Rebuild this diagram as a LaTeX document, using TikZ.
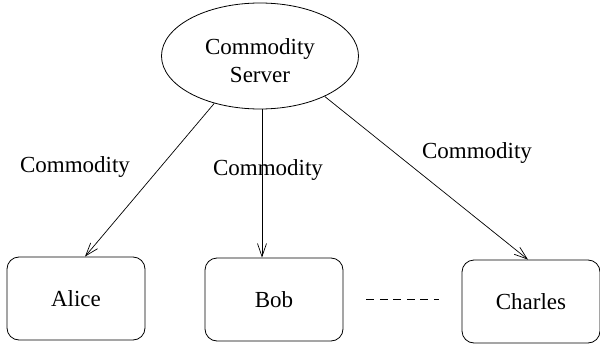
\documentclass[tikz,border=0pt]{standalone}
\usepackage{fontspec}
\setmainfont{Liberation Serif}
\usetikzlibrary{shapes.geometric,arrows.meta}
\begin{document}
\begin{tikzpicture}[x=1pt,y=-1pt,
  every node/.style={font=\fontsize{23}{28}\selectfont},
  server/.style={draw,ellipse,line width=0.8pt,minimum width=197pt,minimum height=106pt,inner sep=0pt},
  party/.style={draw,rounded corners=12pt,line width=0.8pt,minimum width=138pt,minimum height=83pt,inner sep=0pt},
  flow/.style={line width=0.7pt,-{Straight Barb[length=13pt,width=9pt,line width=0.7pt]}},
  tag/.style={inner sep=0pt}]
\useasboundingbox (0,0) rectangle (600,345);

% commodity server
\node[server] (srv) at (260,56) {};
\node[tag,align=center] (srvname) at (260,61) {Commodity\\Server};

% the parties
\node[party] (alice) at (76,298.5) {Alice};
\node[party] (bob) at (274,299.5) {Bob};
\node[party] (charles) at (531,301.5) {Charles};

% deliveries
\draw[flow] (srv.-134) -- ([xshift=9pt]alice.north);
\draw[flow] ([xshift=2pt]srv.south) -- ([xshift=-12pt]bob.north);
\draw[flow] (srv.-32) -- ([xshift=-3pt]charles.north);

% labels
\node[tag] (l1) at (75,167) {Commodity};
\node[tag] (l2) at (268,170) {Commodity};
\node[tag] (l3) at (477,153) {Commodity};

% further parties
\coordinate (dotsA) at ([xshift=23pt]bob.east);
\coordinate (dotsB) at ([xshift=-23pt]charles.west |- dotsA);
\draw[line width=0.7pt,dash pattern=on 8pt off 5.5pt] (dotsA) -- (dotsB);
\end{tikzpicture}
\end{document}
